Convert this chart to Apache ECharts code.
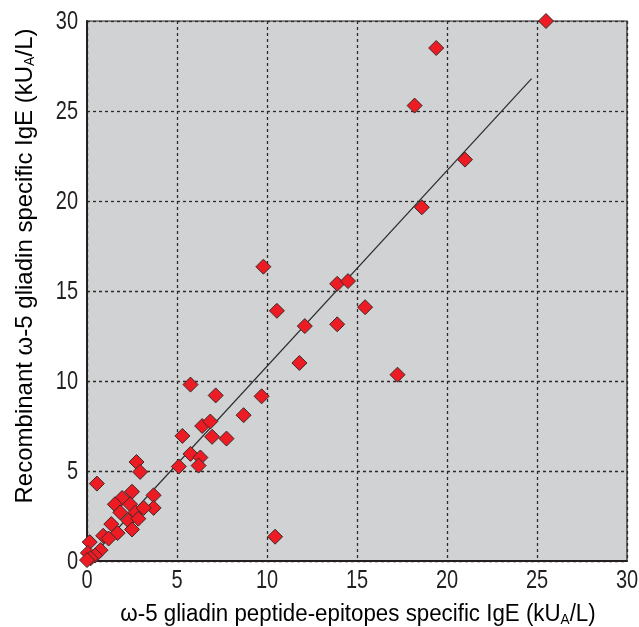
<!DOCTYPE html>
<html>
<head>
<meta charset="utf-8">
<script src="https://cdn.jsdelivr.net/npm/echarts@6/dist/echarts.min.js"></script>
<style>html,body{margin:0;padding:0;background:#fff}#c{width:639px;height:627px}</style>
</head>
<body>
<div id="c"></div>
<script>
// x: omega-5 gliadin peptide-epitopes specific IgE (kUA/L)
const peptideIgE = [25.5, 19.4, 18.2, 21.0, 18.6, 9.8, 13.9, 14.5, 10.55, 12.1, 13.9, 15.45, 11.8, 17.25,
  5.75, 7.15, 9.7, 8.7, 6.4, 6.85, 5.3, 6.95, 7.75, 5.75, 6.3, 6.2, 5.1, 10.45, 2.75, 2.95, 0.55,
  3.7, 3.7, 2.5, 1.95, 1.55, 2.4, 1.85, 2.7, 3.15, 2.3, 2.85, 2.5, 1.35, 1.7, 0.9, 1.2, 0.15, 0.75,
  0.05, 0.45, 0.2, 0.0];
// y: Recombinant omega-5 gliadin specific IgE (kUA/L)
const recombinantIgE = [30.0, 28.5, 25.3, 22.3, 19.65, 16.35, 15.4, 15.55, 13.9, 13.05, 13.15, 14.1, 11.0, 10.35,
  9.8, 9.2, 9.15, 8.1, 7.5, 7.75, 6.95, 6.9, 6.8, 5.95, 5.75, 5.3, 5.25, 1.35, 5.5, 4.95, 4.3,
  3.65, 2.95, 3.85, 3.5, 3.15, 3.15, 2.7, 2.7, 2.95, 2.25, 2.35, 1.75, 2.05, 1.55, 1.4, 1.25, 1.05, 0.6,
  0.45, 0.3, 0.15, 0.05];
// regression line end points [x, y]
const fitLineX = [0.05, 24.7];
const fitLineY = [0.0, 26.8];
const xTicks = [0, 5, 10, 15, 20, 25, 30];
const yTicks = [0, 5, 10, 15, 20, 25, 30];
const xTitle = ['ω-5 gliadin peptide-epitopes specific IgE (kU', 'A', '/L)'];
const yTitle = ['Recombinant ω-5 gliadin specific IgE (kU', 'A', '/L)'];

const points = peptideIgE.map((x, i) => [x, recombinantIgE[i]]);
const fit = fitLineX.map((x, i) => [x, fitLineY[i]]);

const fam = "'Liberation Sans', Arial, sans-serif";
const ink = '#231f20';
const chart = echarts.init(document.getElementById('c'), null, {renderer: 'canvas'});
const gridLine = {show: true, lineStyle: {color: '#2b2b2b', type: [3, 3], width: 1.3}};
chart.setOption({
  animation: false,
  grid: {left: 87, right: 12, top: 21, bottom: 66, show: true, backgroundColor: '#d1d2d4',
    borderColor: ink, borderWidth: 1.2},
  xAxis: {
    type: 'value', min: xTicks[0], max: xTicks[xTicks.length - 1], interval: 5,
    axisLine: {show: true, onZero: false, lineStyle: {color: ink, width: 2}},
    axisTick: {show: false}, axisLabel: {show: false},
    splitLine: gridLine
  },
  yAxis: {
    type: 'value', min: yTicks[0], max: yTicks[yTicks.length - 1], interval: 5,
    axisLine: {show: true, onZero: false, lineStyle: {color: ink, width: 2}},
    axisTick: {show: false}, axisLabel: {show: false},
    splitLine: gridLine
  },
  series: [
    {
      type: 'line', data: fit, showSymbol: false, symbol: 'none', silent: true,
      lineStyle: {color: '#2b2b2b', width: 1.2}, z: 3
    },
    {
      type: 'scatter', data: points, symbol: 'diamond', symbolSize: 15,
      itemStyle: {color: '#ed1c24', borderColor: '#3a2a2a', borderWidth: 1, opacity: 1}, z: 4
    }
  ]
});

// tick labels and titles as condensed text placed through the axis scales
const g = [];
xTicks.forEach(v => {
  const p = chart.convertToPixel({gridIndex: 0}, [v, yTicks[0]]);
  g.push({type: 'text', x: p[0], y: p[1] + 20, scaleX: 0.8,
    style: {text: String(v), font: '25px ' + fam, fill: ink, align: 'center', verticalAlign: 'middle'}});
});
yTicks.forEach(v => {
  const p = chart.convertToPixel({gridIndex: 0}, [xTicks[0], v]);
  g.push({type: 'text', x: p[0] - 9, y: p[1] + 1, scaleX: 0.8,
    style: {text: String(v), font: '25px ' + fam, fill: ink, align: 'right', verticalAlign: 'middle'}});
});
const richT = (size) => ({
  t: {fontFamily: fam, fontSize: size, color: ink},
  s: {fontFamily: fam, fontSize: Math.round(size * 0.6), color: ink, verticalAlign: 'bottom', padding: [11, 0, 0, 0]}
});
const c0 = chart.convertToPixel({gridIndex: 0}, [xTicks[0], yTicks[0]]);
const c1 = chart.convertToPixel({gridIndex: 0}, [xTicks[xTicks.length - 1], yTicks[yTicks.length - 1]]);
g.push({type: 'text', x: (c0[0] + c1[0]) / 2 + 1, y: c0[1] + 54, scaleX: 0.97,
  style: {text: '{t|' + xTitle[0] + '}{s|' + xTitle[1] + '}{t|' + xTitle[2] + '}', rich: richT(23),
    align: 'center', verticalAlign: 'middle'}});
g.push({type: 'text', x: 25, y: 266, rotation: Math.PI / 2, scaleX: 1.0,
  style: {text: '{t|' + yTitle[0] + '}{s|' + yTitle[1] + '}{t|' + yTitle[2] + '}', rich: richT(24),
    align: 'center', verticalAlign: 'middle'}});
chart.setOption({graphic: {elements: g}});
</script>
</body>
</html>
